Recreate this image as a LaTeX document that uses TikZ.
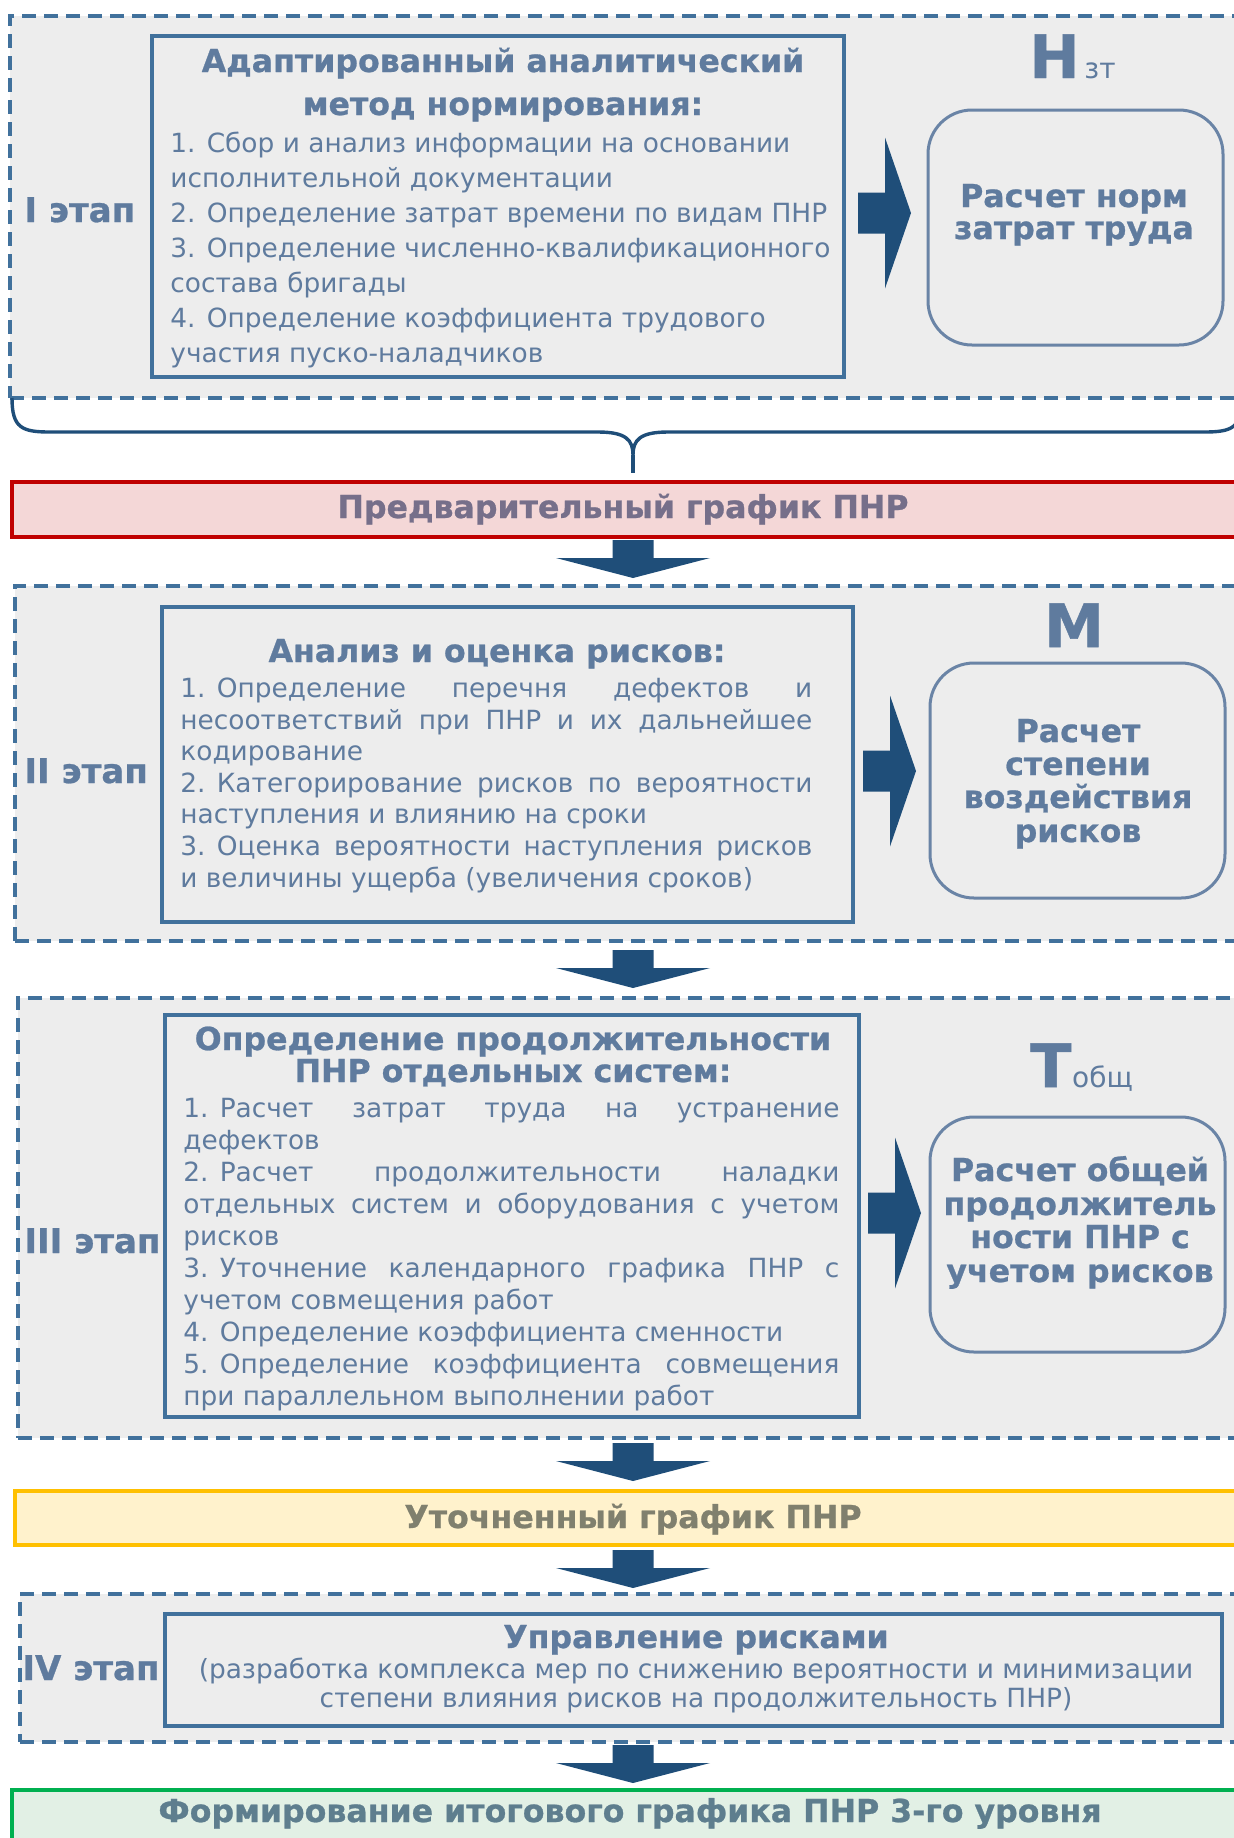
\documentclass[tikz,border=0pt]{standalone}
\usepackage{fontspec}
\setmainfont{DejaVu Sans}[BoldFeatures={FakeBold=0.8}]
\usetikzlibrary{fit}

\definecolor{txt}{HTML}{5F7B9E}
\definecolor{dashc}{HTML}{41719C}
\definecolor{arr}{HTML}{1F4E79}
\definecolor{stagebg}{HTML}{EDEDED}
\definecolor{rbord}{HTML}{6A84A6}
\definecolor{predfill}{HTML}{F4D7D7}
\definecolor{predline}{HTML}{C00000}
\definecolor{predtxt}{HTML}{766F8A}
\definecolor{utfill}{HTML}{FFF2CC}
\definecolor{utline}{HTML}{FFC000}
\definecolor{uttxt}{HTML}{80806E}
\definecolor{finfill}{HTML}{E2F0E5}
\definecolor{finline}{HTML}{00B050}
\definecolor{fintxt}{HTML}{5E7E8E}

\newcommand\itf{\fontsize{13.2}{16}\selectfont}
\newcommand\subf{\fontsize{14}{16}\selectfont}
\newcommand\hdf{\bfseries\fontsize{15.8}{17}\selectfont}
\newcommand\stf{\bfseries\fontsize{17}{18}\selectfont}
\newcommand\bigf{\bfseries\fontsize{30}{32}\selectfont}
\newcommand\jl[2]{\makebox[#1pt][s]{#2}}

\tikzset{
  stagebox/.style={draw=dashc, fill=stagebg, line width=1.8pt, dash pattern=on 7pt off 4pt, inner sep=0pt},
  ibox/.style={draw=dashc, line width=1.6pt, inner sep=0pt},
  rbox/.style={draw=rbord, line width=1.5pt, rounded corners=22pt, inner sep=0pt},
  banner/.style={line width=1.6pt, inner sep=0pt},
  ln/.style={anchor=base west, inner sep=0pt, text=txt, font=\itf},
  lnc/.style={anchor=base, inner sep=0pt, text=txt, font=\itf},
  hd/.style={anchor=base, inner sep=0pt, text=txt, font=\hdf},
  stg/.style={anchor=base west, inner sep=0pt, text=txt, font=\stf},
  bantext/.style={anchor=base, inner sep=0pt, font=\hdf},
  rarrow/.pic={\fill[arr] (0,-20.5) -- (27,-20.5) -- (27,-75.5) -- (53,0) -- (27,75.5) -- (27,20.5) -- (0,20.5) -- cycle;},
  darrow/.pic={\fill[arr] (-20.5,0) -- (20.5,0) -- (20.5,18) -- (77,18) -- (0,38) -- (-77,18) -- (-20.5,18) -- cycle;}
}

\begin{document}
\begin{tikzpicture}[x=0.5pt,y=-0.5pt]
\useasboundingbox (0,0) rectangle (1234,1838);
\clip (0,0) rectangle (1234,1838);
\fill[white] (0,0) rectangle (1234,1838);

% ---------- Stage I ----------
\node[stagebox, fit={(10,16) (1262,398)}] (s1) {};
\node[ibox, fit={(152,36) (844,377)}] (b1) {};
\node[rbox, fit={(928,110) (1223,345)}] (r1) {};
\node[stg] (l1) at (24,222) {I этап};
\node[hd] (h1a) at (503,72) {Адаптированный аналитический};
\node[hd] (h1b) at (503,115) {метод нормирования:};
\node[ln] (i11) at (170,152) {1. Сбор и анализ информации на основании};
\node[ln] (i12) at (170,187) {исполнительной документации};
\node[ln] (i13) at (170,222) {2. Определение затрат времени по видам ПНР};
\node[ln] (i14) at (170,257) {3. Определение численно-квалификационного};
\node[ln] (i15) at (170,292) {состава бригады};
\node[ln] (i16) at (170,327) {4. Определение коэффициента трудового};
\node[ln] (i17) at (170,362) {участия пуско-наладчиков};
\pic at (858,213) {rarrow};
\node[hd] (r1a) at (1074,207) {Расчет норм};
\node[hd] (r1b) at (1074,239) {затрат труда};
\node[anchor=base west, inner sep=0pt, text=txt, font=\bigf] (nz) at (1029,78) {Н};
\node[anchor=base west, inner sep=0pt, text=txt, font=\subf, xshift=2pt] (nzs) at (nz.base east) {зт};

% brace
\coordinate (bl) at (12,398);
\coordinate (br) at (1242,398);
\coordinate (bc) at (633,455);
\coordinate (bt) at (633,473);
\draw[arr, line width=1.7pt] (bl) .. controls (12,428) and (22,432) .. (50,432) -- (598,432)
   .. controls (626,432) and (633,440) .. (bc)
   .. controls (633,440) and (640,432) .. (668,432) -- (1204,432)
   .. controls (1232,432) and (1242,428) .. (br);
\draw[arr, line width=1.7pt] (bc) -- (bt);

% ---------- Preliminary schedule ----------
\node[banner, draw=predline, fill=predfill, fit={(12,482) (1262,537)}] (pred) {};
\node[bantext, text=predtxt] (predt) at (623,518) {Предварительный график ПНР};
\pic at (633,540) {darrow};

% ---------- Stage II ----------
\node[stagebox, fit={(15,586) (1262,941)}] (s2) {};
\node[ibox, fit={(162,607) (853,922)}] (b2) {};
\node[rbox, fit={(930,663) (1225,898)}] (r2) {};
\node[stg] (l2) at (24,783) {II этап};
\node[hd] (h2) at (497,662) {Анализ и оценка рисков:};
\node[ln] (i21) at (180,697) {\jl{316}{\mbox{1. Определение} перечня дефектов и}};
\node[ln] (i22) at (180,729) {\jl{316}{несоответствий при ПНР и их дальнейшее}};
\node[ln] (i23) at (180,760) {кодирование};
\node[ln] (i24) at (180,792) {\jl{316}{\mbox{2. Категорирование} рисков по вероятности}};
\node[ln] (i25) at (180,823) {наступления и влиянию на сроки};
\node[ln] (i26) at (180,855) {\jl{316}{\mbox{3. Оценка} вероятности наступления рисков}};
\node[ln] (i27) at (180,887) {и величины ущерба (увеличения сроков)};
\pic at (863,771) {rarrow};
\node[hd] (r2a) at (1078,742) {Расчет};
\node[hd] (r2b) at (1078,775) {степени};
\node[hd] (r2c) at (1078,808) {воздействия};
\node[hd] (r2d) at (1078,842) {рисков};
\node[anchor=base, inner sep=0pt, text=txt, font=\bigf] (mm) at (1074,647) {М};
\pic at (633,950) {darrow};

% ---------- Stage III ----------
\node[stagebox, fit={(18,998) (1262,1438)}] (s3) {};
\node[ibox, fit={(165,1015) (859,1417)}] (b3) {};
\node[rbox, fit={(930,1117) (1225,1352)}] (r3) {};
\node[stg] (l3) at (24,1253) {III этап};
\node[hd] (h3a) at (513,1050) {Определение продолжительности};
\node[hd] (h3b) at (513,1082) {ПНР отдельных систем:};
\node[ln] (i31) at (183,1117) {\jl{328}{\mbox{1. Расчет} затрат труда на устранение}};
\node[ln] (i32) at (183,1149) {дефектов};
\node[ln] (i33) at (183,1181) {\jl{328}{\mbox{2. Расчет} продолжительности наладки}};
\node[ln] (i34) at (183,1213) {\jl{328}{отдельных систем и оборудования с учетом}};
\node[ln] (i35) at (183,1245) {рисков};
\node[ln] (i36) at (183,1277) {\jl{328}{\mbox{3. Уточнение} календарного графика ПНР с}};
\node[ln] (i37) at (183,1309) {учетом совмещения работ};
\node[ln] (i38) at (183,1341) {4. Определение коэффициента сменности};
\node[ln] (i39) at (183,1373) {\jl{328}{\mbox{5. Определение} коэффициента совмещения}};
\node[ln] (i3x) at (183,1405) {при параллельном выполнении работ};
\pic at (868,1213) {rarrow};
\node[hd] (r3a) at (1080,1181) {Расчет общей};
\node[hd] (r3b) at (1080,1215) {продолжитель};
\node[hd] (r3c) at (1080,1248) {ности ПНР с};
\node[hd] (r3d) at (1080,1282) {учетом рисков};
\node[anchor=base west, inner sep=0pt, text=txt, font=\bigf] (tt) at (1030,1087) {Т};
\node[anchor=base west, inner sep=0pt, text=txt, font=\subf] (tts) at (tt.base east) {общ};
\pic at (633,1443) {darrow};

% ---------- Refined schedule ----------
\node[banner, draw=utline, fill=utfill, fit={(15,1491) (1262,1545)}] (ut) {};
\node[bantext, text=uttxt] (utt) at (633,1528) {Уточненный график ПНР};
\pic at (633,1550) {darrow};

% ---------- Stage IV ----------
\node[stagebox, fit={(20,1594) (1262,1742)}] (s4) {};
\node[ibox, fit={(165,1614) (1222,1726)}] (b4) {};
\node[stg] (l4) at (22,1680) {IV этап};
\node[hd] (h4) at (696,1648) {Управление рисками};
\node[lnc] (i41) at (696,1678) {(разработка комплекса мер по снижению вероятности и минимизации};
\node[lnc] (i42) at (696,1707) {степени влияния рисков на продолжительность ПНР)};
\pic at (633,1745) {darrow};

% ---------- Final schedule ----------
\node[banner, draw=finline, fill=finfill, fit={(12,1790) (1262,1860)}] (fin) {};
\node[bantext, text=fintxt] (fint) at (630,1822) {Формирование итогового графика ПНР 3-го уровня};
\end{tikzpicture}
\end{document}
